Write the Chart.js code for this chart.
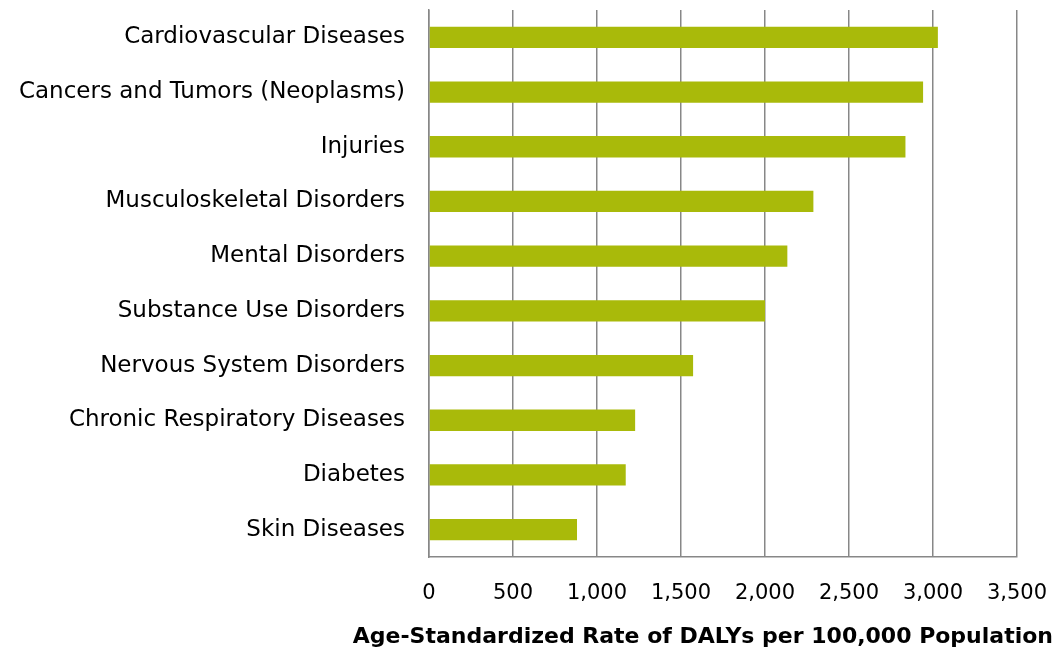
<!DOCTYPE html>
<html>
<head>
<meta charset="utf-8">
<script src="https://cdn.jsdelivr.net/npm/chart.js@4/dist/chart.umd.min.js"></script>
<style>
html,body{margin:0;padding:0;background:#fff;}
#wrap{width:1056px;height:652px;position:relative;}
</style>
</head>
<body>
<div id="wrap"><canvas id="c" width="1056" height="652"></canvas></div>
<script>
const categories = [
  "Cardiovascular Diseases",
  "Cancers and Tumors (Neoplasms)",
  "Injuries",
  "Musculoskeletal Disorders",
  "Mental Disorders",
  "Substance Use Disorders",
  "Nervous System Disorders",
  "Chronic Respiratory Diseases",
  "Diabetes",
  "Skin Diseases"
];
const dalyRates = [3029, 2941, 2836, 2288, 2133, 2000, 1572, 1227, 1171, 881];
const xTickMax = 3500;
const xTickStep = 500;
const xTitle = "Age-Standardized Rate of DALYs per 100,000 Population";

const FONT = "'DejaVu Sans', Tahoma, sans-serif";
const gridColor = "#878787";

const axisTitlePlugin = {
  id: 'axisTitle',
  afterDraw(chart) {
    const ctx = chart.ctx;
    ctx.save();
    ctx.font = "bold 22px " + FONT;
    ctx.fillStyle = '#000';
    ctx.textAlign = 'right';
    ctx.textBaseline = 'alphabetic';
    ctx.fillText(xTitle, 1053, 643);
    ctx.restore();
  }
};

new Chart(document.getElementById('c'), {
  type: 'bar',
  data: {
    labels: categories,
    datasets: [{
      data: dalyRates,
      backgroundColor: '#A9BA0A',
      borderWidth: 0,
      categoryPercentage: 1,
      barPercentage: 0.39
    }]
  },
  plugins: [axisTitlePlugin],
  options: {
    indexAxis: 'y',
    responsive: false,
    animation: false,
    devicePixelRatio: 1,
    layout: { padding: { top: 10, right: 39, left: 0, bottom: 0 } },
    plugins: { legend: { display: false }, tooltip: { enabled: false } },
    scales: {
      x: {
        min: 0,
        max: xTickMax,
        ticks: {
          stepSize: xTickStep,
          color: '#000',
          font: { family: FONT, size: 21 },
          padding: 24,
          maxRotation: 0,
          callback: v => v.toLocaleString('en-US')
        },
        grid: { color: gridColor, lineWidth: 1.5, drawTicks: false },
        border: { color: gridColor, width: 1.5 },
        afterFit: s => { s.height = 95; s.paddingLeft = 0; s.paddingRight = 0; }
      },
      y: {
        ticks: {
          color: '#000',
          font: { family: FONT, size: 23 },
          padding: 24
        },
        grid: { display: false, drawTicks: false },
        border: { color: gridColor, width: 1.5 },
        afterFit: s => { s.width = 429; s.paddingTop = 0; s.paddingBottom = 0; }
      }
    }
  }
});
</script>
</body>
</html>
